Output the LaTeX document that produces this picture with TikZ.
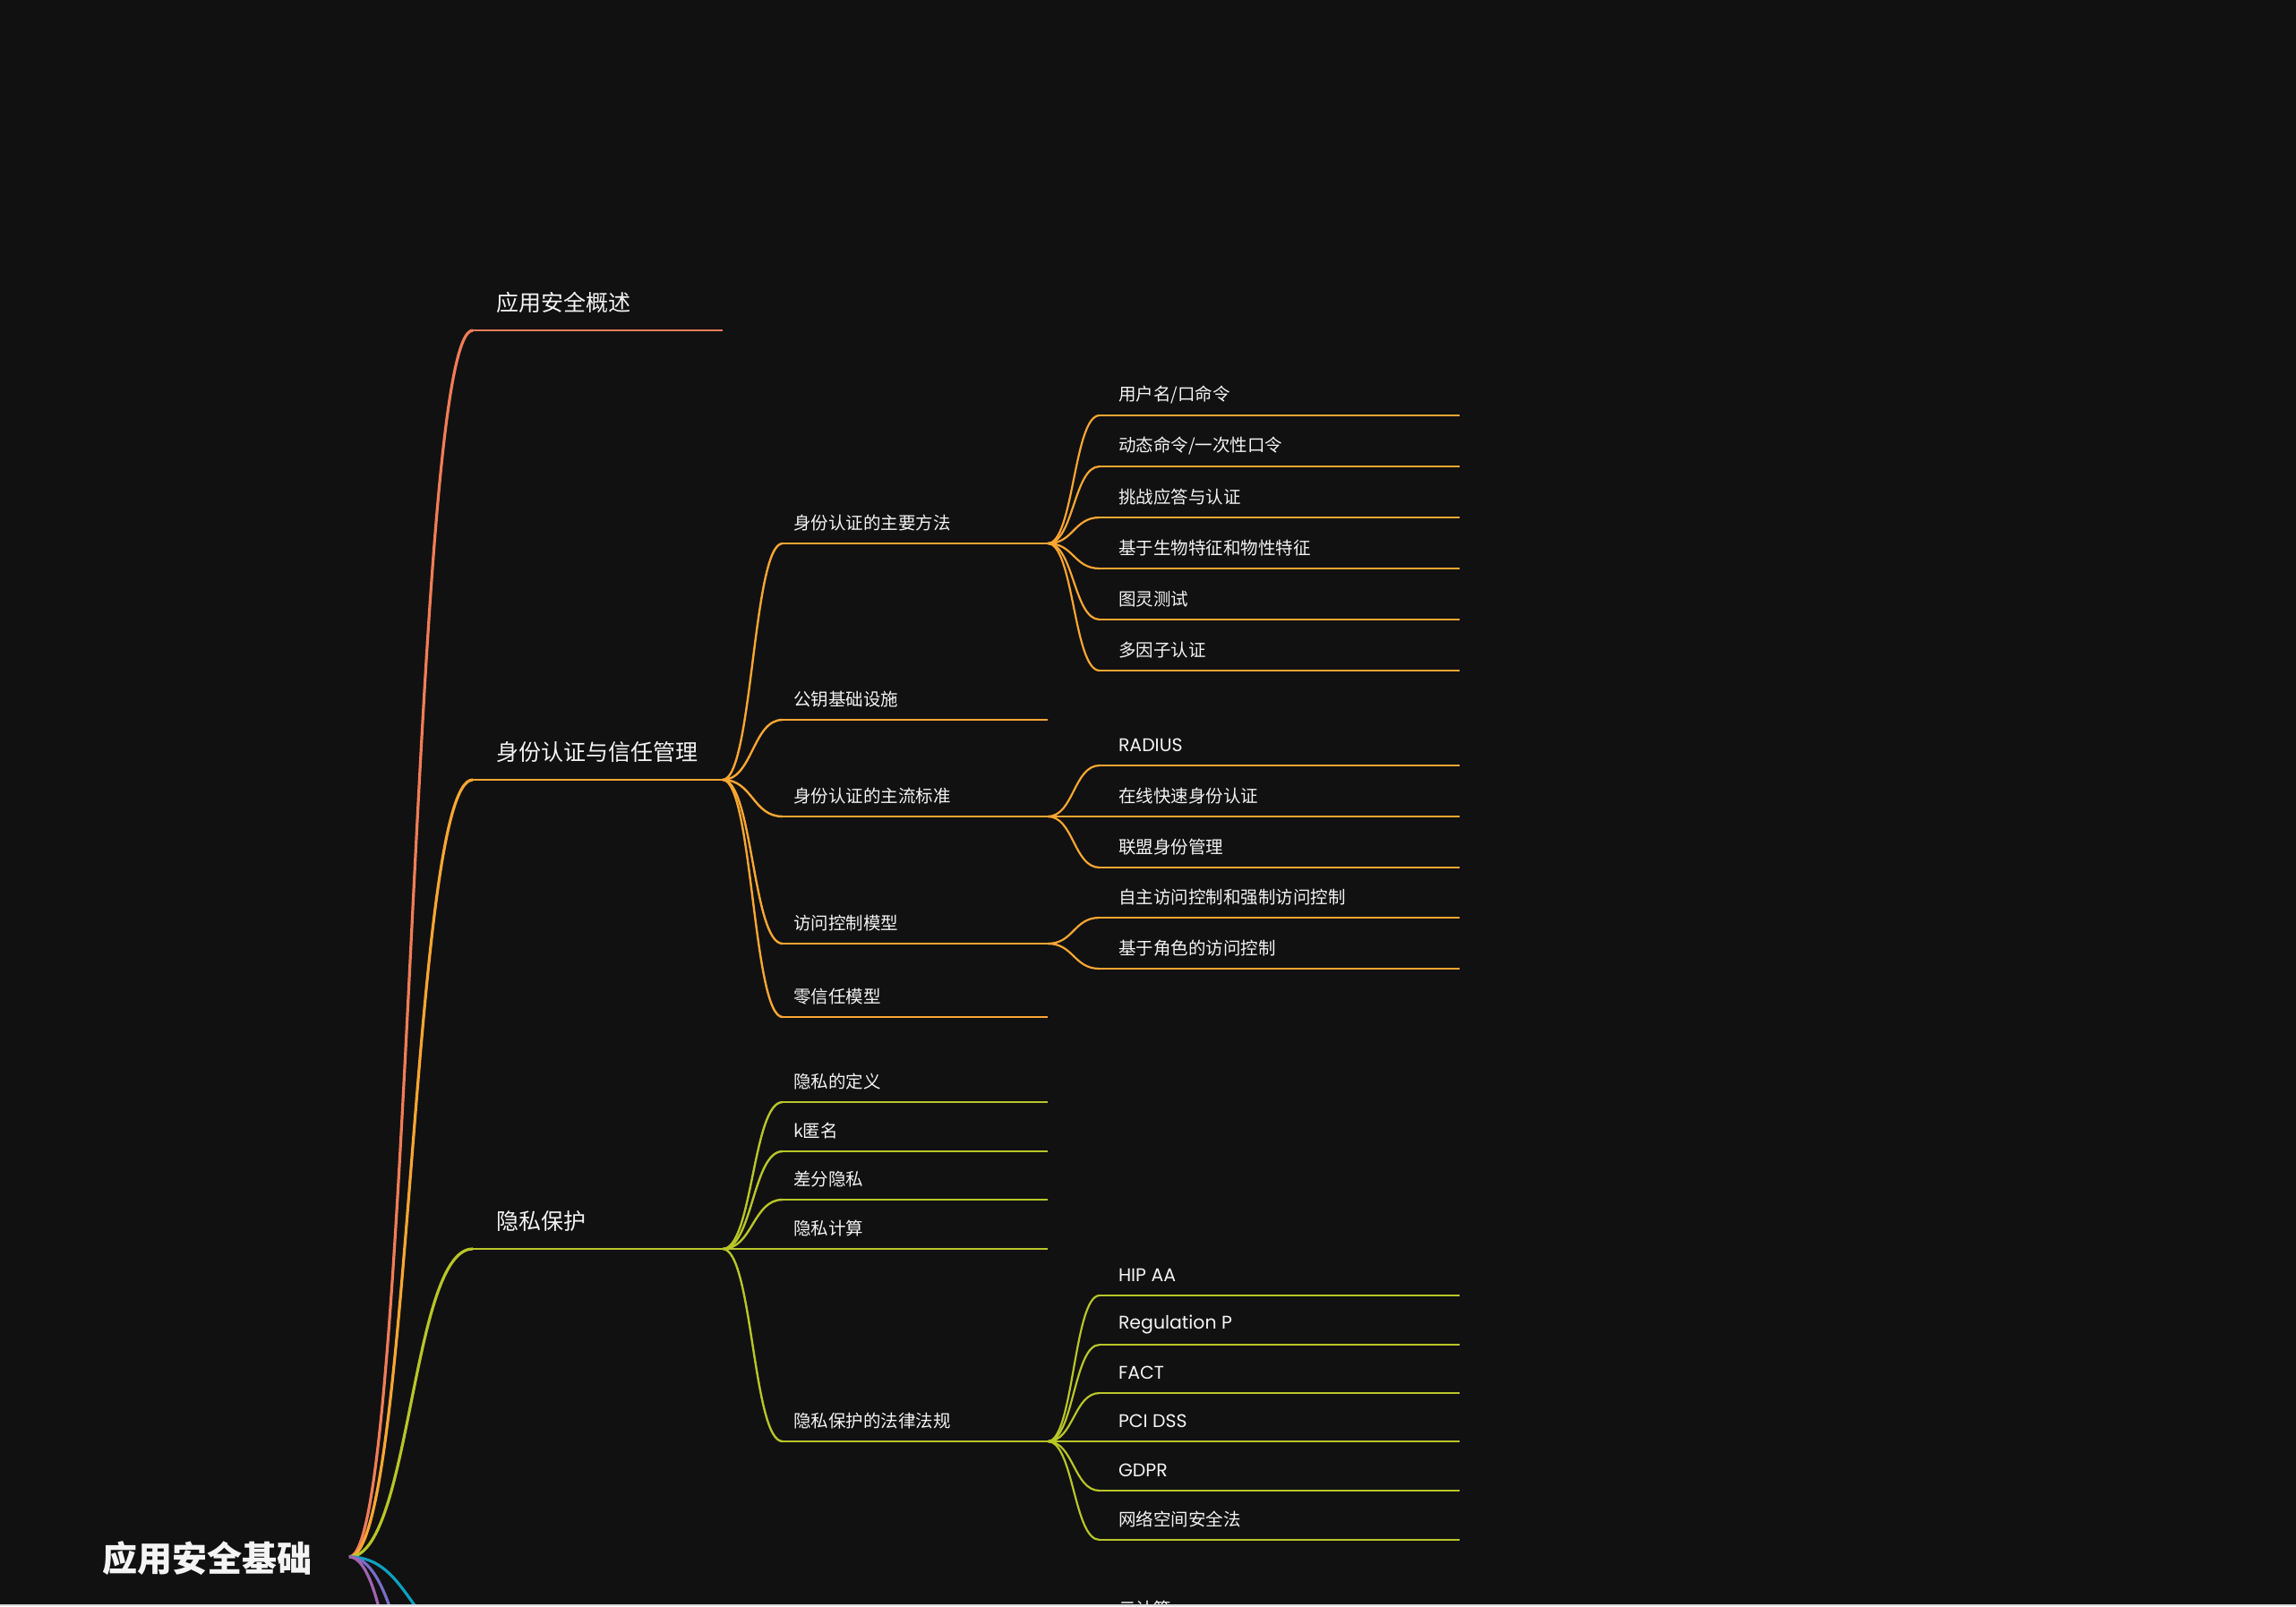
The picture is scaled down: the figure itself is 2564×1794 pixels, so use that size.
\documentclass[tikz,border=0pt]{standalone}
\usepackage{fontspec}
\usetikzlibrary{calc}
\newfontfamily\cjk{Noto Sans CJK SC}
\newfontfamily\lat{Poppins}[Scale=1.05]
\definecolor{bg}{HTML}{111111}
\definecolor{txt}{HTML}{F4F4F4}
\definecolor{strip}{HTML}{DDDDDD}
\definecolor{cA}{HTML}{F17D57}
\definecolor{cB}{HTML}{FAA632}
\definecolor{cC}{HTML}{B8C628}
\definecolor{cD}{HTML}{0EA0C0}
\definecolor{cE}{HTML}{786EC8}
\definecolor{cF}{HTML}{A064B0}
% curved link from a fork to the start of a child's underline
\newcommand\mlink[3]{\draw[#1] (#2) .. controls ($(#2)!.5!(#2 -| #3)$) and ($(#3)!.5!(#3 -| #2)$) .. (#3);}
\begin{document}
\begin{tikzpicture}[x=1pt,y=-1pt,
  every node/.style={inner sep=0pt, outer sep=0pt, text=txt},
  lbl/.style={anchor=west, font=\cjk\fontsize{19.5}{23}\selectfont},
  lblone/.style={anchor=west, font=\cjk\fontsize{25}{30}\selectfont},
  lblroot/.style={anchor=east, font=\cjk\bfseries\fontsize{39}{46}\selectfont},
  lroot/.style={line width=3.2pt},
  lone/.style={line width=2.6pt},
  ltwo/.style={line width=2.4pt},
  lthree/.style={line width=2.2pt}]
\useasboundingbox (0,0) rectangle (2564,1794);
\fill[bg] (0,0) rectangle (2564,1794);
\begin{scope}
\clip (0,0) rectangle (2564,1792);
% root
\coordinate (root) at (390,1739);
\node[lblroot] (root-t) at (348,1741) {应用安全基础};
% first level
\foreach \n/\y/\c/\t in {a/369/cA/应用安全概述, b/871/cB/身份认证与信任管理, c/1395/cC/隐私保护}{
  \coordinate (\n) at (528,\y);
  \coordinate (\n-e) at (807,\y);
  \draw[lone,\c] (\n) -- (\n-e);
  \node[lblone] (\n-t) at (554,\y-31) {\t};
  \mlink{lroot,\c}{root}{\n}
}
% branches that run off the page
\foreach \n/\y/\c in {d/1836/cD, e/2025/cE, f/2328/cF}{
  \coordinate (\n) at (528,\y);
  \mlink{lroot,\c}{root}{\n}
}
% second level
\foreach \n/\y/\p/\c/\t in {b1/607/b/cB/身份认证的主要方法, b2/804/b/cB/公钥基础设施,
    b3/912/b/cB/身份认证的主流标准, b4/1054/b/cB/访问控制模型, b5/1136/b/cB/零信任模型,
    c1/1231/c/cC/隐私的定义, c2/1286/c/cC/k匿名, c3/1340/c/cC/差分隐私,
    c4/1395/c/cC/隐私计算, c5/1610/c/cC/隐私保护的法律法规}{
  \coordinate (\n) at (874,\y);
  \coordinate (\n-e) at (1170,\y);
  \draw[ltwo,\c] (\n) -- (\n-e);
  \node[lbl] (\n-t) at (886,\y-23) {\t};
  \mlink{ltwo,\c}{\p-e}{\n}
}
% third level
\foreach \n/\y/\p/\c/\t in {b11/464/b1/cB/{用户名/口命令}, b12/521/b1/cB/{动态命令/一次性口令},
    b13/578/b1/cB/挑战应答与认证, b14/635/b1/cB/基于生物特征和物性特征,
    b15/692/b1/cB/图灵测试, b16/749/b1/cB/多因子认证,
    b31/855/b3/cB/{\lat RADIUS}, b32/912/b3/cB/在线快速身份认证, b33/969/b3/cB/联盟身份管理,
    b41/1025/b4/cB/自主访问控制和强制访问控制, b42/1082/b4/cB/基于角色的访问控制,
    c51/1447/c5/cC/{\lat HIP AA}, c52/1502/c5/cC/{\lat Regulation P}, c53/1556/c5/cC/{\lat FACT},
    c54/1610/c5/cC/{\lat PCI DSS}, c55/1665/c5/cC/{\lat GDPR}, c56/1720/c5/cC/网络空间安全法}{
  \coordinate (\n) at (1228,\y);
  \coordinate (\n-e) at (1630,\y);
  \draw[lthree,\c] (\n) -- (\n-e);
  \node[lbl] (\n-t) at (1249,\y-23) {\t};
  \mlink{lthree,\c}{\p-e}{\n}
}
\node[lbl] (g-t) at (1249,1797) {云计算};
\end{scope}
\fill[strip] (0,1792) rectangle (2564,1794);
\end{tikzpicture}
\end{document}
